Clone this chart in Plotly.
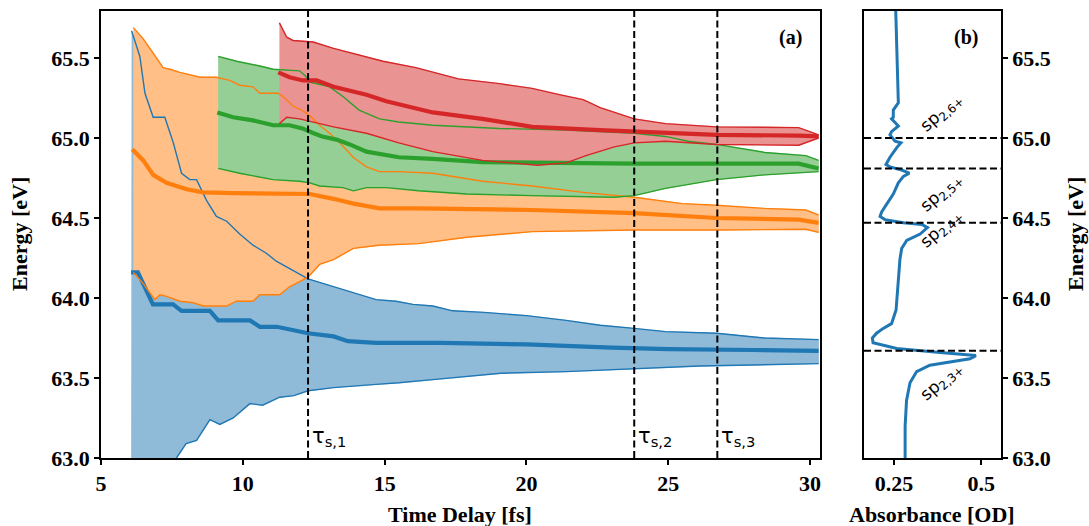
import plotly.graph_objects as go

# ---------------- data: panel (a) ----------------
# blue state
t_blue_up = [6.08, 6.37, 6.55, 6.84, 7.25, 7.55, 7.84, 8.13, 8.37, 8.72, 9.07, 9.43, 9.89, 10.36, 10.83, 11.18,
             12.3, 13.2, 13.9, 14.7, 15.4, 16.0, 16.7, 17.4, 18.5, 20.0, 21.4, 22.6, 23.8, 24.9, 26.7, 28.4, 30.3]
e_blue_up = [65.67, 65.51, 65.28, 65.13, 65.13, 64.97, 64.78, 64.74, 64.74, 64.61, 64.51, 64.48, 64.40, 64.33, 64.28, 64.23,
             64.12, 64.07, 64.03, 63.99, 63.98, 63.96, 63.95, 63.92, 63.91, 63.89, 63.86, 63.83, 63.81, 63.79, 63.78, 63.75, 63.74]
t_blue_mean = [6.06, 6.3, 6.83, 7.54, 7.84, 8.84, 9.13, 10.25, 10.6, 11.2, 12.3, 13.2, 13.7, 14.7, 17.0, 20.0, 23.0, 25.0, 28.0, 30.3]
e_blue_mean = [64.16, 64.16, 63.96, 63.96, 63.92, 63.92, 63.86, 63.86, 63.82, 63.82, 63.78, 63.76, 63.73, 63.72, 63.72, 63.71,
               63.69, 63.68, 63.675, 63.67]
t_blue_low = [6.06, 6.8, 7.66, 8.0, 8.37, 8.84, 9.19, 9.66, 10.25, 10.7, 11.3, 11.8, 12.3, 13.2, 14.7, 15.5, 16.7, 19.1,
              21.4, 23.8, 26.1, 30.3]
e_blue_low = [62.5, 62.85, 63.0, 63.09, 63.11, 63.24, 63.21, 63.25, 63.34, 63.33, 63.38, 63.39, 63.42, 63.44, 63.46, 63.47,
              63.49, 63.53, 63.54, 63.56, 63.575, 63.59]

# orange state
t_orange_up = [6.14, 6.49, 6.84, 7.19, 7.43, 7.78, 8.49, 9.07, 9.54, 9.89, 10.36, 10.6, 11.24, 11.42, 11.77, 12.12, 12.36,
               12.71, 13.06, 13.42, 13.89, 14.36, 14.82, 15.5, 16.7, 18.45, 20.2, 22.0, 23.8, 25.5, 26.7, 28.4, 29.85, 30.3]
e_orange_up = [65.69, 65.62, 65.53, 65.44, 65.43, 65.41, 65.38, 65.38, 65.36, 65.33, 65.32, 65.28, 65.28, 65.26, 65.20, 65.17,
               65.14, 65.08, 65.03, 64.97, 64.88, 64.82, 64.79, 64.79, 64.78, 64.73, 64.70, 64.66, 64.63, 64.59, 64.58, 64.56,
               64.55, 64.52]
t_orange_mean = [6.1, 6.49, 6.84, 7.31, 8.02, 8.6, 9.66, 12.36, 13.2, 13.9, 14.82, 16.2, 20.2, 23.8, 26.7, 29.6, 30.3]
e_orange_mean = [64.93, 64.86, 64.77, 64.72, 64.68, 64.66, 64.655, 64.65, 64.62, 64.59, 64.56, 64.56, 64.55, 64.53, 64.50,
                 64.49, 64.47]
t_orange_low = [6.14, 6.49, 6.9, 7.08, 7.31, 7.78, 8.25, 8.6, 9.43, 9.78, 10.36, 10.6, 11.3, 11.65, 12.3, 12.71, 13.2, 13.9,
                14.8, 16.2, 17.9, 20.2, 23.8, 26.7, 29.85, 30.3]
e_orange_low = [64.16, 64.09, 63.99, 64.02, 64.01, 63.98, 63.97, 63.95, 63.95, 63.98, 63.98, 64.02, 64.02, 64.07, 64.13,
                64.21, 64.24, 64.31, 64.33, 64.34, 64.38, 64.415, 64.425, 64.425, 64.43, 64.41]

# green state
t_green_up = [9.13, 9.78, 10.6, 11.07, 12.0, 12.2, 12.36, 13.06, 13.53, 14.1, 14.82, 15.5, 16.7, 19.05, 21.4, 23.8, 24.9,
              25.7, 26.7, 28.4, 29.85, 30.3]
e_green_up = [65.51, 65.48, 65.45, 65.43, 65.42, 65.39, 65.35, 65.32, 65.26, 65.175, 65.12, 65.10, 65.08, 65.06, 65.05,
              65.03, 65.01, 64.98, 64.96, 64.91, 64.89, 64.86]
t_green_mean = [9.1, 9.66, 10.36, 11.07, 11.65, 12.1, 12.5, 12.8, 13.3, 13.77, 14.36, 15.06, 15.5, 16.7, 18.45, 23.8, 29.6, 30.3]
e_green_mean = [65.16, 65.13, 65.11, 65.08, 65.08, 65.06, 65.03, 65.01, 64.99, 64.96, 64.915, 64.89, 64.88, 64.87, 64.85,
                64.84, 64.84, 64.81]
t_green_low = [9.13, 9.89, 11.07, 12.0, 12.36, 12.71, 13.53, 13.9, 14.36, 15.06, 16.2, 17.9, 20.2, 23.1, 23.8, 24.9, 26.7,
               28.4, 30.3]
e_green_low = [64.81, 64.78, 64.74, 64.73, 64.72, 64.70, 64.69, 64.67, 64.69, 64.69, 64.67, 64.65, 64.64, 64.63, 64.64,
               64.685, 64.74, 64.77, 64.79]

# red state
t_red_up = [11.29, 11.55, 11.77, 12.48, 13.2, 14.94, 16.1, 17.6, 19.05, 20.2, 21.2, 22.0, 22.6, 23.8, 24.9, 26.7, 29.6, 30.3]
e_red_up = [65.72, 65.63, 65.61, 65.60, 65.56, 65.48, 65.44, 65.37, 65.34, 65.31, 65.27, 65.24, 65.19, 65.12, 65.09, 65.07,
            65.065, 65.02]
t_red_mean = [11.25, 11.65, 12.12, 12.6, 13.2, 14.36, 15.06, 15.5, 16.7, 18.45, 20.2, 22.6, 23.8, 26.7, 29.6, 30.3]
e_red_mean = [65.41, 65.38, 65.36, 65.36, 65.32, 65.27, 65.23, 65.21, 65.16, 65.12, 65.07, 65.05, 65.04, 65.02, 65.015, 65.01]
t_red_low = [11.29, 11.55, 12.0, 12.71, 13.2, 14.36, 15.5, 16.7, 18.45, 20.4, 21.4, 22.1, 23.1, 23.8, 24.9, 26.7, 29.6, 30.3]
e_red_low = [65.09, 65.13, 65.12, 65.09, 65.07, 65.03, 64.97, 64.915, 64.86, 64.83, 64.845, 64.89, 64.945, 64.97, 64.98,
             64.96, 64.955, 65.0]

tau_values = [12.3, 23.8, 26.73]
tau_labels = ["τ<sub>s,1</sub>", "τ<sub>s,2</sub>", "τ<sub>s,3</sub>"]

# ---------------- data: panel (b) ----------------
spec_energy = [65.80, 65.61, 65.35, 65.22, 65.175, 65.13, 65.12, 65.10, 65.075, 65.04, 65.02, 64.98, 64.97, 64.94, 64.88,
               64.835, 64.82, 64.80, 64.78, 64.76, 64.72, 64.65, 64.59, 64.54, 64.51, 64.49, 64.47, 64.46, 64.44, 64.40,
               64.36, 64.31, 64.24, 64.09, 63.925, 63.84, 63.81, 63.78, 63.75, 63.72, 63.685, 63.66, 63.64, 63.62, 63.60,
               63.58, 63.54, 63.47, 63.36, 63.20, 63.0, 62.9]
spec_absorb = [0.255, 0.258, 0.2625, 0.2625, 0.248, 0.248, 0.243, 0.253, 0.2625, 0.243, 0.2385, 0.253, 0.27, 0.258, 0.2385,
               0.227, 0.2385, 0.272, 0.294, 0.277, 0.2625, 0.248, 0.229, 0.215, 0.21, 0.224, 0.277, 0.33, 0.346, 0.325,
               0.2865, 0.272, 0.267, 0.2625, 0.256, 0.243, 0.219, 0.2, 0.188, 0.19, 0.258, 0.382, 0.485, 0.468, 0.41,
               0.353, 0.315, 0.296, 0.286, 0.282, 0.282, 0.282]
state_energies = [63.67, 64.47, 64.81, 65.00]
state_labels = ["sp<sub>2,3+</sub>", "sp<sub>2,4+</sub>", "sp<sub>2,5+</sub>", "sp<sub>2,6+</sub>"]
state_label_energy = [63.48, 64.435, 64.66, 65.16]
state_label_absorb = [0.387, 0.387, 0.387, 0.387]

x_ticks_a = [5, 10, 15, 20, 25, 30]
y_ticks = [63.0, 63.5, 64.0, 64.5, 65.0, 65.5]
x_ticks_b = [0.25, 0.5]
x_ticktext_b = ["0.25", "0.5"]

# ---------------- figure ----------------
W, H = 1089, 526
serif = "Liberation Serif"
sans = "DejaVu Sans"

series = [
    ("#1f77b4", "#8fbbd9", t_blue_up, e_blue_up, t_blue_mean, e_blue_mean, t_blue_low, e_blue_low),
    ("#ff7f0e", "#ffbf86", t_orange_up, e_orange_up, t_orange_mean, e_orange_mean, t_orange_low, e_orange_low),
    ("#2ca02c", "#95cf95", t_green_up, e_green_up, t_green_mean, e_green_mean, t_green_low, e_green_low),
    ("#d62728", "#ea9393", t_red_up, e_red_up, t_red_mean, e_red_mean, t_red_low, e_red_low),
]

fig = go.Figure()

# fills (opaque, drawn in order)
for col, fcol, tu, eu, tm, em, tl, el in series:
    fig.add_trace(go.Scatter(x=tl + tu[::-1], y=el + eu[::-1], fill="toself", fillcolor=fcol,
                             mode="lines", line=dict(width=0.8, color=fcol), hoverinfo="skip",
                             showlegend=False, xaxis="x", yaxis="y"))
# lines
for col, fcol, tu, eu, tm, em, tl, el in series:
    fig.add_trace(go.Scatter(x=tu, y=eu, mode="lines", line=dict(color=col, width=1.4),
                             showlegend=False, xaxis="x", yaxis="y"))
    fig.add_trace(go.Scatter(x=tl, y=el, mode="lines", line=dict(color=col, width=1.4),
                             showlegend=False, xaxis="x", yaxis="y"))
    fig.add_trace(go.Scatter(x=tm, y=em, mode="lines", line=dict(color=col, width=4.2),
                             showlegend=False, xaxis="x", yaxis="y"))

# spectrum
fig.add_trace(go.Scatter(x=spec_absorb, y=spec_energy, mode="lines", line=dict(color="#1f77b4", width=3),
                         showlegend=False, xaxis="x2", yaxis="y2"))

shapes = []
for tv in tau_values:
    shapes.append(dict(type="line", xref="x", yref="y domain", x0=tv, x1=tv, y0=0, y1=1,
                       line=dict(color="black", width=2, dash="7px,3.5px"), layer="above"))
for ev in state_energies:
    shapes.append(dict(type="line", xref="x2 domain", yref="y2", x0=0, x1=1, y0=ev, y1=ev,
                       line=dict(color="black", width=2, dash="7px,3.5px"), layer="above"))

annotations = []
for tv, lab in zip(tau_values, tau_labels):
    annotations.append(dict(x=tv, y=63.13, xref="x", yref="y", text=lab, showarrow=False,
                            xanchor="left", yanchor="middle", xshift=2,
                            font=dict(family=sans, size=21, color="black")))
for lab, le, la in zip(state_labels, state_label_energy, state_label_absorb):
    annotations.append(dict(x=la, y=le, xref="x2", yref="y2", text=lab, showarrow=False,
                            textangle=-42, font=dict(family=sans, size=17, color="black")))

def px(xp, yp):
    return xp / W, 1 - yp / H

for text, (xp, yp), ang in [
    ("Energy [eV]", (20, 234), -90),
    ("Energy [eV]", (1076, 234), -90),
    ("Time Delay [fs]", (460, 514), 0),
    ("Absorbance [OD]", (932, 514), 0),
    ("(a)", (790, 38), 0),
    ("(b)", (966, 38), 0),
]:
    xx, yy = px(xp, yp)
    annotations.append(dict(x=xx, y=yy, xref="paper", yref="paper", text="<b>" + text + "</b>",
                            showarrow=False, textangle=ang, xanchor="center", yanchor="middle",
                            font=dict(family=serif, size=22 if text[0] != "(" else 20, color="black")))

tickfont = dict(family=serif, size=22, color="black", weight="bold")
axis_common = dict(showline=True, linecolor="black", linewidth=1.5, mirror=True, ticks="outside",
                   ticklen=5, tickwidth=1.5, tickcolor="black", showgrid=False, zeroline=False,
                   tickfont=tickfont, automargin=False)

y_dom = [1 - 458 / H, 1 - 11 / H]
fig.update_layout(
    template="none",
    width=W, height=H, margin=dict(l=0, r=0, t=0, b=0, pad=0), autosize=False,
    paper_bgcolor="white", plot_bgcolor="white",
    xaxis=dict(domain=[101 / W, 820 / W], range=[5, 30.35], tickvals=x_ticks_a, anchor="y", **axis_common),
    yaxis=dict(domain=y_dom, range=[63.0, 65.794], tickvals=y_ticks, tickformat=".1f", anchor="x", **axis_common),
    xaxis2=dict(domain=[864 / W, 1001 / W], range=[0.164, 0.557], tickvals=x_ticks_b, ticktext=x_ticktext_b,
                anchor="y2", **axis_common),
    yaxis2=dict(domain=y_dom, range=[63.0, 65.794], tickvals=y_ticks, tickformat=".1f", anchor="x2",
                side="right", **axis_common),
    shapes=shapes, annotations=annotations,
)

fig.write_html("out.html", config={"displayModeBar": False},
               post_script="document.body.style.margin='0';document.body.style.padding='0';"
                           "document.body.style.overflow='hidden';")
